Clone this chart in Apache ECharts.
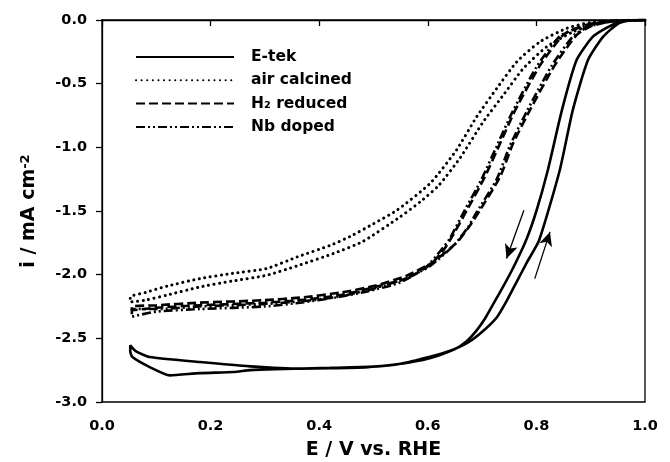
<!DOCTYPE html>
<html>
<head>
<meta charset="utf-8">
<script src="https://cdn.jsdelivr.net/npm/echarts@6/dist/echarts.min.js"></script>
<style>html,body{margin:0;padding:0;background:#fff}#c{width:670px;height:462px}</style>
</head>
<body>
<div id="c"></div>
<script>
// Tick values
var xTicks = [0.0, 0.2, 0.4, 0.6, 0.8, 1.0];
var yTicks = [-3.0, -2.5, -2.0, -1.5, -1.0, -0.5, 0.0];
var seriesNames = ['E-tek', 'air calcined', 'H\u2082 reduced', 'Nb doped'];

// E-tek: cathodic sweep (1.0 -> 0.05) then anodic sweep (0.05 -> 1.0)
var etek = [
  [1.0,0],[0.97,-0.005],[0.95,-0.02],[0.93,-0.06],[0.904,-0.131],[0.874,-0.315],[0.847,-0.708],
  [0.821,-1.18],[0.80,-1.50],[0.781,-1.73],[0.758,-1.94],[0.738,-2.10],[0.722,-2.22],[0.706,-2.34],
  [0.690,-2.437],[0.672,-2.52],[0.65,-2.585],[0.62,-2.635],[0.591,-2.67],[0.55,-2.70],[0.53,-2.712],[0.49,-2.726],[0.42,-2.735],
  [0.365,-2.738],[0.273,-2.72],[0.18,-2.686],[0.088,-2.647],[0.062,-2.60],[0.052,-2.555],
  [0.052,-2.60],[0.056,-2.647],[0.088,-2.726],[0.125,-2.791],[0.18,-2.773],[0.242,-2.765],
  [0.273,-2.75],[0.32,-2.742],[0.42,-2.732],[0.50,-2.722],[0.55,-2.70],[0.604,-2.645],[0.64,-2.60],
  [0.675,-2.53],[0.705,-2.43],[0.728,-2.33],[0.746,-2.20],[0.762,-2.07],[0.783,-1.90],[0.805,-1.73],
  [0.843,-1.18],[0.867,-0.708],[0.895,-0.315],[0.923,-0.131],[0.95,-0.03],[0.97,-0.005],[1.0,0]
];
var airCalcined = [
  [1.0,0],[0.95,-0.005],[0.899,-0.02],[0.856,-0.065],[0.807,-0.17],[0.764,-0.328],[0.727,-0.537],
  [0.690,-0.76],[0.653,-1.02],[0.604,-1.284],[0.543,-1.494],[0.50,-1.60],[0.457,-1.70],[0.42,-1.77],
  [0.36,-1.86],[0.303,-1.952],[0.24,-1.99],[0.18,-2.031],[0.12,-2.09],[0.08,-2.14],[0.052,-2.175],
  [0.052,-2.215],[0.08,-2.20],[0.12,-2.16],[0.18,-2.097],[0.24,-2.05],[0.303,-2.005],[0.36,-1.93],
  [0.426,-1.834],[0.48,-1.74],[0.549,-1.546],[0.586,-1.428],[0.62,-1.30],[0.66,-1.08],[0.702,-0.80],
  [0.739,-0.59],[0.776,-0.38],[0.819,-0.21],[0.868,-0.092],[0.91,-0.03],[0.95,-0.008],[1.0,0]
];
var h2Reduced = [
  [1.0,0],[0.95,-0.005],[0.90,-0.03],[0.87,-0.07],[0.849,-0.118],[0.807,-0.354],[0.761,-0.708],
  [0.733,-0.97],[0.705,-1.232],[0.672,-1.494],[0.645,-1.70],[0.63,-1.80],[0.605,-1.92],[0.56,-2.03],
  [0.50,-2.10],[0.44,-2.16],[0.365,-2.20],[0.30,-2.22],[0.18,-2.24],[0.10,-2.26],[0.055,-2.28],
  [0.055,-2.25],[0.10,-2.24],[0.18,-2.22],[0.30,-2.20],[0.365,-2.18],[0.44,-2.14],[0.50,-2.09],
  [0.56,-2.01],[0.61,-1.90],[0.655,-1.74],[0.68,-1.60],[0.696,-1.494],[0.733,-1.232],[0.757,-0.97],
  [0.788,-0.708],[0.834,-0.354],[0.874,-0.118],[0.90,-0.05],[0.94,-0.01],[1.0,0]
];
var nbDoped = [
  [1.0,0],[0.95,-0.008],[0.90,-0.035],[0.865,-0.08],[0.842,-0.13],[0.80,-0.37],[0.755,-0.73],
  [0.727,-0.99],[0.699,-1.25],[0.666,-1.51],[0.640,-1.72],[0.622,-1.82],[0.597,-1.94],[0.55,-2.06],
  [0.49,-2.13],[0.43,-2.18],[0.365,-2.22],[0.30,-2.25],[0.18,-2.27],[0.10,-2.29],[0.055,-2.33],
  [0.055,-2.27],[0.10,-2.27],[0.18,-2.25],[0.30,-2.23],[0.365,-2.21],[0.44,-2.17],[0.50,-2.11],
  [0.56,-2.03],[0.605,-1.93],[0.65,-1.76],[0.675,-1.62],[0.69,-1.51],[0.727,-1.25],[0.751,-0.99],
  [0.782,-0.72],[0.828,-0.36],[0.868,-0.125],[0.895,-0.055],[0.935,-0.012],[1.0,0]
];
// Sweep-direction arrows (start, end) in data coordinates
var arrowDown = [[0.777,-1.494],[0.745,-1.873]];
var arrowUp = [[0.797,-2.031],[0.825,-1.664]];

var FONT = 'DejaVu Sans, Liberation Sans, Arial, sans-serif';
var chart = echarts.init(document.getElementById('c'), null, {renderer:'canvas'});

function mkSeries(name, data, type, width, cap){
  return {
    name: name, type: 'line', data: data, symbol: 'none', smooth: 0.2,
    lineStyle: {color:'#000', width: width, type: type, cap: cap || 'butt'},
    itemStyle: {color:'#000'}, animation: false, z: 3
  };
}

chart.setOption({
  backgroundColor: '#fff',
  animation: false,
  grid: {left:102, right:25, top:20, bottom:60, containLabel:false, outerBoundsMode:'none',
    show:true, borderColor:'#000', borderWidth:1.3, backgroundColor:'transparent'},
  legend: {
    data: seriesNames, orient:'vertical', left:130, top:44,
    itemWidth:98, itemHeight:14, itemGap:7.3,
    itemStyle: {opacity:0},
    textStyle: {fontFamily: FONT, fontSize:15.5, lineHeight:16, fontWeight:'bold', color:'#000', padding:[0,0,0,12]},
    selectedMode:false
  },
  xAxis: {
    type:'value', min:0, max:1, interval:0.2,
    name:'E / V vs. RHE', nameLocation:'middle', nameGap:39,
    nameTextStyle:{fontFamily:FONT, fontSize:19, fontWeight:'bold', color:'#000'},
    axisLine:{show:true, lineStyle:{color:'#000', width:1.3}},
    axisTick:{show:true, inside:false, length:6, lineStyle:{color:'#000', width:1.3}},
    axisLabel:{fontFamily:FONT, fontSize:14.5, fontWeight:'bold', color:'#000', margin:17,
      formatter:function(v){return v.toFixed(1);}},
    splitLine:{show:false}
  },
  yAxis: {
    type:'value', min:-3, max:0, interval:0.5,
    name:'i / mA cm{sup|-2}', nameLocation:'middle', nameGap:62, nameRotate:90,
    nameTextStyle:{fontFamily:FONT, fontSize:19, fontWeight:'bold', color:'#000',
      rich:{sup:{fontFamily:FONT, fontSize:13, fontWeight:'bold', color:'#000', verticalAlign:'top', padding:[0,0,8,0]}}},
    axisLine:{show:true, lineStyle:{color:'#000', width:1.3}},
    axisTick:{show:true, inside:false, length:6, lineStyle:{color:'#000', width:1.3}},
    axisLabel:{fontFamily:FONT, fontSize:14.5, fontWeight:'bold', color:'#000', margin:15,
      formatter:function(v){return v.toFixed(1);}},
    splitLine:{show:false}
  },
  series: [
    mkSeries(seriesNames[0], etek, 'solid', 2.6),
    mkSeries(seriesNames[1], airCalcined, [0.1,5.5], 3, 'round'),
    mkSeries(seriesNames[2], h2Reduced, [9,4], 2.6),
    mkSeries(seriesNames[3], nbDoped, [9,3,2,3,2,3], 2.6),
    {
      name:'arrows', type:'line', data:[], symbol:'none', silent:true,
      markLine:{
        silent:true, animation:false, symbol:['none','arrow'], symbolSize:[10,14],
        label:{show:false},
        lineStyle:{color:'#000', width:1.3, type:'solid'},
        data:[
          [{coord:arrowDown[0]},{coord:arrowDown[1]}],
          [{coord:arrowUp[0]},{coord:arrowUp[1]}]
        ]
      }
    }
  ]
});
</script>
</body>
</html>
